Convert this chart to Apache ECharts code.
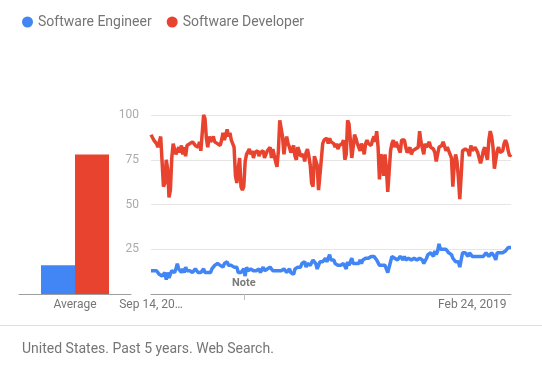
<!DOCTYPE html>
<html>
<head>
<meta charset="utf-8">
<script src="https://cdn.jsdelivr.net/npm/echarts@6/dist/echarts.min.js"></script>
<style>html,body{margin:0;padding:0;background:#fff}#c{width:542px;height:369px}</style>
</head>
<body>
<div id="c"></div>
<script>
var seriesNames = ["Software Engineer", "Software Developer"];
var seriesColors = ["#4285f4", "#e8432f"];
var startDate = "2014-09-14";
var weekCount = 261;
var tickLabels = {0: "Sep 14, 20…", 232: "Feb 24, 2019"};
var noteIndex = 67;
var noteText = "Note";
var averageCategory = ["Average"];
var averageEngineer = [16];
var averageDeveloper = [78];
var footerText = "United States. Past 5 years. Web Search.";

var engineer = [
13,12,13,12,13,12,11,12,10,9,
12,8,12,9,10,13,14,12,14,17,
14,13,12,14,12,15,13,14,13,13,
12,13,14,13,12,13,12,13,14,12,
13,12,13,12,14,15,16,15,17,18,
16,17,15,17,16,18,16,15,16,17,
15,14,15,12,11,12,11,14,10,15,
13,12,14,15,13,14,13,13,14,12,
13,15,13,12,14,13,15,14,13,12,
13,12,13,14,13,12,14,13,12,13,
14,12,13,11,14,14,15,16,15,17,
16,18,15,17,18,16,17,19,18,17,
14,16,18,19,18,19,20,18,20,22,
19,18,19,17,17,16,17,16,15,17,
16,14,18,16,17,20,17,18,17,18,
17,19,17,19,18,20,19,20,21,21,
20,21,20,19,18,16,17,16,17,16,
16,12,15,18,21,22,20,21,19,20,
21,20,19,21,19,18,20,21,19,18,
20,21,19,18,20,21,19,17,16,20,
22,21,23,22,21,24,22,24,28,25,
24,25,24,25,24,23,22,22,20,19,
18,17,18,15,19,23,22,23,22,21,
23,22,21,22,21,22,21,22,21,22,
21,22,23,22,21,22,23,24,21,19,
23,24,23,24,23,24,24,25,26,25,
26];

var developer = [
89,88,86,85,84,82,81,88,89,60,
62,75,70,54,58,76,84,83,78,80,
82,79,83,78,82,77,83,82,84,83,
85,86,83,84,82,85,80,79,100,98,
87,82,88,85,86,88,85,86,84,85,
83,86,90,86,89,92,88,90,86,84,
82,66,62,70,76,60,58,60,74,78,
77,81,78,80,76,79,78,80,77,79,
78,80,76,78,80,79,82,76,81,80,
74,71,80,97,98,88,78,84,88,84,
82,79,80,83,77,75,82,80,77,76,
78,74,79,81,77,72,62,60,77,78,
72,58,58,75,84,86,85,87,84,87,
85,86,84,82,84,81,83,82,84,86,
75,78,97,95,86,76,82,89,87,84,
82,80,84,82,78,84,86,84,85,83,
86,88,85,91,82,64,78,76,66,78,
70,57,58,80,84,86,82,85,84,81,
79,86,87,86,82,79,80,82,78,80,
79,81,80,82,91,85,84,78,84,82,
81,85,82,83,81,79,74,74,82,81,
83,85,84,80,82,80,78,76,60,72,
78,74,65,53,66,80,79,81,82,80,
77,83,80,81,82,81,79,76,73,76,
80,82,78,75,86,91,88,82,70,70,
80,82,79,78,80,84,86,84,80,77,
78];

var months = ["Jan","Feb","Mar","Apr","May","Jun","Jul","Aug","Sep","Oct","Nov","Dec"];
var weeks = [];
var d0 = new Date(startDate + "T12:00:00Z");
for (var i = 0; i < weekCount; i++) {
  var d = new Date(d0.getTime() + i * 7 * 86400000);
  weeks.push(months[d.getUTCMonth()] + " " + d.getUTCDate() + ", " + d.getUTCFullYear());
}

var FONT = "Roboto";
var chart = echarts.init(document.getElementById("c"), null, {renderer: "canvas"});
chart.setOption({
  animation: false,
  textStyle: {fontFamily: FONT},
  legend: {
    top: 10, left: 17, icon: "circle", itemWidth: 11, itemHeight: 11, itemGap: 15,
    data: seriesNames,
    textStyle: {color: "#757575", fontSize: 14, fontFamily: FONT}
  },
  title: {
    text: footerText, left: 22, top: 342, padding: 0,
    textStyle: {color: "#757575", fontSize: 14, fontWeight: "normal", fontFamily: FONT}
  },
  graphic: [{
    type: "line", shape: {x1: 0, y1: 325.5, x2: 542, y2: 325.5},
    style: {stroke: "#e0e0e0", lineWidth: 1}
  }],
  grid: [
    {left: 151, right: 31, top: 115, bottom: 75},
    {left: 19, width: 112, top: 115, bottom: 75}
  ],
  xAxis: [
    {
      gridIndex: 0, type: "category", data: weeks, boundaryGap: false,
      axisLine: {lineStyle: {color: "#9e9e9e", width: 1}},
      axisTick: {show: true, interval: function (idx) { return idx === noteIndex; }, length: 6, lineStyle: {color: "#bdbdbd"}},
      axisLabel: {
        interval: function (idx) { return tickLabels[idx] !== undefined; },
        formatter: function (v, idx) { return tickLabels[idx] || ""; },
        color: "#757575", fontSize: 12, margin: 5, fontFamily: FONT
      },
      splitLine: {show: false}
    },
    {
      gridIndex: 0, type: "category", data: weeks, boundaryGap: false, position: "bottom",
      axisLine: {show: false}, axisTick: {show: false},
      axisLabel: {
        inside: true, margin: 5,
        interval: function (idx) { return idx === noteIndex; },
        formatter: function () { return noteText; },
        color: "#7a7a7a", fontSize: 11, fontWeight: "bold", fontFamily: FONT
      }
    },
    {
      gridIndex: 1, type: "category", data: averageCategory,
      axisLine: {lineStyle: {color: "#9e9e9e", width: 1}},
      axisTick: {show: false},
      axisLabel: {color: "#757575", fontSize: 12, margin: 5, fontFamily: FONT}
    }
  ],
  yAxis: [
    {
      gridIndex: 0, type: "value", min: 0, max: 100, interval: 25,
      axisLine: {show: false}, axisTick: {show: false},
      axisLabel: {
        formatter: function (v) { return v === 0 ? "" : String(v); },
        color: "#aaaaaa", fontSize: 12, margin: 12, fontFamily: FONT
      },
      splitLine: {lineStyle: {color: "#e5e5e5", width: 1}}
    },
    {gridIndex: 1, type: "value", min: 0, max: 100, show: false}
  ],
  series: [
    {
      name: seriesNames[0], type: "line", xAxisIndex: 0, yAxisIndex: 0, data: engineer,
      showSymbol: false, symbol: "none", lineStyle: {width: 3.5, color: seriesColors[0]},
      itemStyle: {color: seriesColors[0]}
    },
    {
      name: seriesNames[1], type: "line", xAxisIndex: 0, yAxisIndex: 0, data: developer,
      showSymbol: false, symbol: "none", lineStyle: {width: 3.5, color: seriesColors[1]},
      itemStyle: {color: seriesColors[1]}
    },
    {
      name: seriesNames[0], type: "bar", xAxisIndex: 2, yAxisIndex: 1, data: averageEngineer,
      barWidth: 34, barGap: "0%", itemStyle: {color: seriesColors[0]}
    },
    {
      name: seriesNames[1], type: "bar", xAxisIndex: 2, yAxisIndex: 1, data: averageDeveloper,
      barWidth: 34, barGap: "0%", itemStyle: {color: seriesColors[1]}
    }
  ]
});
</script>
</body>
</html>
